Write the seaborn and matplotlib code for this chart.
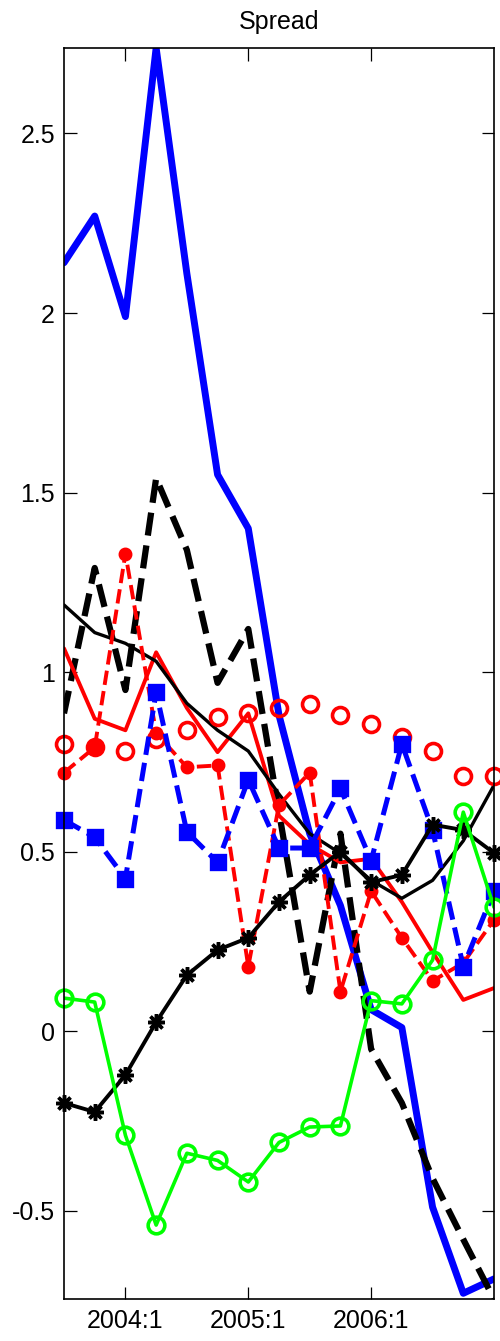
import numpy as np
import pandas as pd
import matplotlib
matplotlib.use("Agg")
import matplotlib.pyplot as plt
import seaborn as sns

# Quarterly periods 2003:3 .. 2007:1
quarters = np.arange(15)
tick_pos = [2, 6, 10]
tick_labels = ["2004:1", "2005:1", "2006:1"]
y_ticks = [-0.5, 0, 0.5, 1, 1.5, 2, 2.5]
y_tick_labels = ["-0.5", "0", "0.5", "1", "1.5", "2", "2.5"]

blue_thick = [2.14, 2.27, 1.99, 2.738, 2.11, 1.55, 1.40, 0.88, 0.55, 0.35, 0.06, 0.01, -0.49, -0.73, -0.69]
black_dashed = [0.885, 1.29, 0.95, 1.54, 1.34, 0.97, 1.12, 0.61, 0.11, 0.55, -0.05, -0.20, -0.41, -0.58, -0.746]
red_solid = [1.066, 0.87, 0.838, 1.055, 0.90, 0.777, 0.885, 0.60, 0.52, 0.47, 0.48, 0.36, 0.22, 0.087, 0.12]
black_thin = [1.187, 1.11, 1.08, 1.03, 0.913, 0.838, 0.78, 0.66, 0.55, 0.495, 0.42, 0.37, 0.42, 0.53, 0.685]
red_dashed_dots = [0.72, 0.79, 1.33, 0.83, 0.735, 0.74, 0.18, 0.63, 0.72, 0.11, 0.39, 0.26, 0.14, 0.19, 0.31]
red_rings = [0.80, 0.79, 0.78, 0.815, 0.84, 0.875, 0.885, 0.90, 0.91, 0.88, 0.855, 0.82, 0.78, 0.71, 0.71]
blue_squares = [0.588, 0.54, 0.425, 0.944, 0.555, 0.47, 0.70, 0.51, 0.51, 0.676, 0.475, 0.80, 0.56, 0.18, 0.39]
black_stars = [-0.20, -0.225, -0.122, 0.025, 0.156, 0.226, 0.26, 0.36, 0.435, 0.50, 0.415, 0.435, 0.575, 0.56, 0.496]
green_rings = [0.092, 0.081, -0.29, -0.54, -0.34, -0.36, -0.42, -0.31, -0.267, -0.264, 0.085, 0.076, 0.198, 0.61, 0.345]

sns.set_style("white")
plt.rcParams["font.family"] = ["Liberation Sans", "DejaVu Sans"]
plt.rcParams["text.color"] = "black"

fig = plt.figure(figsize=(5.0, 13.41), dpi=100)
ax = fig.add_axes([0.128, 0.0313, 0.86, 0.9329])


def draw(values, color, lw, ls="-", marker=None, ms=None, mew=None, mfc=None):
    df = pd.DataFrame({"q": quarters, "v": values})
    if ls is not None:
        sns.lineplot(data=df, x="q", y="v", ax=ax, color=color, linewidth=lw,
                     linestyle=ls, errorbar=None, sort=False)
    if marker is not None:
        sns.lineplot(data=df, x="q", y="v", ax=ax, color=color, linewidth=0,
                     marker=marker, markersize=ms, markeredgewidth=mew,
                     markerfacecolor=mfc, markeredgecolor=color,
                     errorbar=None, sort=False, clip_on=False)


draw(blue_thick, "#0000ff", 5.0, "-")
draw(black_dashed, "#000000", 4.5, "--")
draw(red_solid, "#ff0000", 2.8, "-")
draw(black_thin, "#000000", 2.4, "-")
draw(red_dashed_dots, "#ff0000", 2.8, "--", marker="o", ms=8, mew=2, mfc="#ff0000")
draw(red_rings, "#ff0000", 0, None, marker="o", ms=11.5, mew=2.6, mfc="none")
draw(blue_squares, "#0000ff", 3.6, "--", marker="s", ms=10, mew=2.4, mfc="#0000ff")
draw(black_stars, "#000000", 2.8, "-", marker=(8, 2, 0), ms=12, mew=2.5, mfc="#000000")
draw(green_rings, "#00ff00", 2.6, "-", marker="o", ms=12, mew=2.6, mfc="none")

ax.set_xlim(0, 14)
ax.set_ylim(-0.746, 2.738)
ax.set_xticks(tick_pos)
ax.set_xticklabels(tick_labels)
ax.set_yticks(y_ticks)
ax.set_yticklabels(y_tick_labels)
ax.set_xlabel("")
ax.set_ylabel("")
ax.set_title("Spread", fontsize=18, pad=14, color="black")

for side in ["left", "right", "top", "bottom"]:
    ax.spines[side].set_visible(True)
    ax.spines[side].set_color("black")
    ax.spines[side].set_linewidth(1.2)

ax.tick_params(axis="both", which="major", direction="in", length=9, width=0.9,
               color="black", labelsize=18, labelcolor="black",
               top=True, right=True, bottom=True, left=True)
ax.tick_params(axis="y", pad=6.5)
ax.tick_params(axis="x", pad=7)

fig.savefig("out.png", dpi=100)
